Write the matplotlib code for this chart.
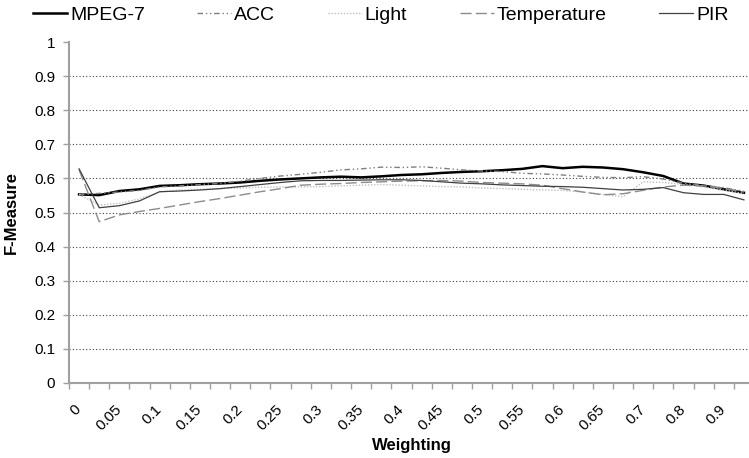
import matplotlib
matplotlib.use('Agg')
import matplotlib.pyplot as plt
import matplotlib.transforms as mtransforms
import numpy as np

plt.rcParams['font.family'] = ['Liberation Sans', 'DejaVu Sans']

# category axis: 34 weightings, every second one labelled
weights = [0, 0.025, 0.05, 0.075, 0.1, 0.125, 0.15, 0.175, 0.2, 0.225, 0.25, 0.275,
           0.3, 0.325, 0.35, 0.375, 0.4, 0.425, 0.45, 0.475, 0.5, 0.525, 0.55, 0.575,
           0.6, 0.625, 0.65, 0.675, 0.7, 0.75, 0.8, 0.85, 0.9, 0.95]
tick_labels = ['0', '0.05', '0.1', '0.15', '0.2', '0.25', '0.3', '0.35', '0.4',
               '0.45', '0.5', '0.55', '0.6', '0.65', '0.7', '0.8', '0.9']

mpeg7 = [0.553, 0.551, 0.563, 0.568, 0.578, 0.580, 0.583, 0.585, 0.588, 0.593, 0.597, 0.600,
         0.603, 0.605, 0.603, 0.606, 0.610, 0.612, 0.616, 0.619, 0.621, 0.624, 0.628, 0.636,
         0.630, 0.634, 0.632, 0.627, 0.618, 0.607, 0.585, 0.579, 0.568, 0.558]
acc = [0.553, 0.556, 0.560, 0.565, 0.575, 0.578, 0.582, 0.585, 0.592, 0.600, 0.607, 0.612,
       0.618, 0.625, 0.628, 0.633, 0.632, 0.634, 0.630, 0.625, 0.622, 0.620, 0.615, 0.613,
       0.610, 0.606, 0.603, 0.602, 0.605, 0.598, 0.586, 0.579, 0.573, 0.562]
light = [0.553, 0.522, 0.527, 0.540, 0.560, 0.566, 0.568, 0.570, 0.572, 0.574, 0.575, 0.575,
         0.576, 0.578, 0.580, 0.582, 0.580, 0.578, 0.576, 0.575, 0.572, 0.570, 0.568, 0.566,
         0.565, 0.560, 0.553, 0.546, 0.590, 0.588, 0.582, 0.575, 0.565, 0.556]
temperature = [0.625, 0.473, 0.493, 0.503, 0.512, 0.522, 0.532, 0.541, 0.551, 0.561, 0.570, 0.580,
               0.583, 0.585, 0.588, 0.590, 0.592, 0.593, 0.594, 0.592, 0.588, 0.586, 0.584, 0.580,
               0.570, 0.560, 0.552, 0.555, 0.565, 0.575, 0.580, 0.578, 0.570, 0.560]
pir = [0.628, 0.514, 0.520, 0.534, 0.561, 0.563, 0.566, 0.570, 0.576, 0.582, 0.588, 0.593,
       0.594, 0.594, 0.595, 0.596, 0.596, 0.594, 0.590, 0.586, 0.584, 0.581, 0.579, 0.577,
       0.576, 0.574, 0.570, 0.566, 0.568, 0.573, 0.558, 0.553, 0.553, 0.537]

W, H = 749, 458
fig = plt.figure(figsize=(W / 100, H / 100), dpi=100)
# plot area in pixels: left 69, right 754 (runs past the picture edge), top 42, bottom 383
ax = fig.add_axes([69 / W, 1 - 383 / H, (754 - 69) / W, (383 - 42) / H])

x = np.arange(len(weights))
ax.plot(x, mpeg7, color='black', lw=1.8, label='MPEG-7')
ax.plot(x, acc, color='#7f7f7f', lw=1.0, ls=(0, (4, 2, 1, 2, 1, 2)), label='ACC')
ax.plot(x, light, color='#c0c0c0', lw=1.0, ls=(0, (1, 1.2)), label='Light')
ax.plot(x, temperature, color='#8c8c8c', lw=1.0, ls=(0, (8, 3)), label='Temperature')
ax.plot(x, pir, color='#404040', lw=0.9, label='PIR')

ax.set_xlim(-0.5, len(weights) - 0.5)
ax.set_ylim(0, 1)

# y axis
ax.set_yticks(np.arange(0, 1.01, 0.1))
ax.set_yticklabels(['0'] + [f'{v:.1f}' for v in np.arange(0.1, 0.95, 0.1)] + ['1'])
ax.tick_params(axis='y', direction='out', length=4, width=1, color='#a0a0a0',
               labelsize=11, pad=6, labelcolor='black')
for v in np.arange(0.1, 0.95, 0.1):
    ax.axhline(v, color='#404040', lw=0.8, ls=(0, (1, 2)), zorder=0)

# x axis: tick marks between categories, labels on every second category
ax.set_xticks(x[::2])
ax.set_xticklabels(tick_labels, rotation=45, ha='right', va='top', rotation_mode='anchor')
ax.set_xticks(np.arange(-0.5, len(weights)), minor=True)
ax.tick_params(axis='x', which='major', length=0, labelsize=11, pad=14)
ax.tick_params(axis='x', which='minor', direction='out', length=4, width=1, color='#a0a0a0')
offset = mtransforms.ScaledTranslation(-5 / 100, 0, fig.dpi_scale_trans)
for lab in ax.get_xticklabels():
    lab.set_transform(lab.get_transform() + offset)

for side in ['top', 'right']:
    ax.spines[side].set_visible(False)
for side in ['left', 'bottom']:
    ax.spines[side].set_color('#a0a0a0')
    ax.spines[side].set_linewidth(1.5)

label_font = ['Liberation Sans Narrow', 'Liberation Sans', 'DejaVu Sans']
ax.set_ylabel('F-Measure', fontsize=12, fontweight='bold', family=label_font)
ax.yaxis.set_label_coords(-50 / 685, 0.5)
ax.set_xlabel('Weighting', fontsize=12, fontweight='bold', family=label_font)
ax.xaxis.set_label_coords(0.5, (383 - 438) / 341)

fig.legend(loc='center left', bbox_to_anchor=(33 / W, 1 - 15 / H), ncol=5, frameon=False,
           fontsize=14, handlelength=1.75, handletextpad=0.15, columnspacing=2.7,
           borderpad=0, borderaxespad=0)

fig.savefig('out.png', dpi=100)
